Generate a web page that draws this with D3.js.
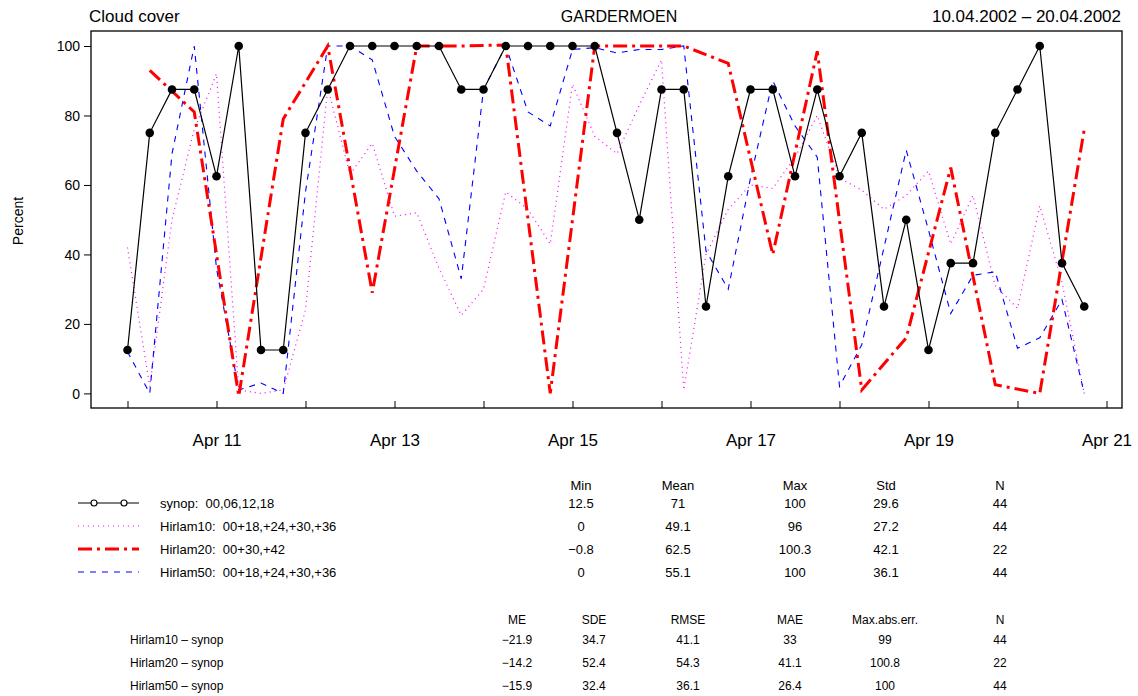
<!DOCTYPE html>
<html>
<head>
<meta charset="utf-8">
<script src="https://cdn.jsdelivr.net/npm/d3@7"></script>
<style>
  body { margin: 0; background: #fff; }
  svg { font-family: "Liberation Sans", Arial, sans-serif; }
  text { white-space: pre; }
</style>
</head>
<body>
<svg id="chart" width="1138" height="696"></svg>
<script>
// cloud cover (percent), Gardermoen 10.04.2002 - 20.04.2002
const synop = [12.5, 75, 87.5, 87.5, 62.5, 100, 12.5, 12.5, 75, 87.5,
  100, 100, 100, 100, 100, 87.5, 87.5, 100, 100, 100,
  100, 100, 75, 50, 87.5, 87.5, 25, 62.5, 87.5, 87.5,
  62.5, 87.5, 62.5, 75, 25, 50, 12.5, 37.5, 37.5, 75,
  87.5, 100, 37.5, 25];
const hirlam10 = [42, 2, 50, 76, 92, 1, 0, 1, 24, 88,
  63, 72, 51, 52, 36, 22.5, 30, 58, 53, 43,
  89, 74, 69, 83, 96, 1, 40, 53, 60, 59,
  68, 80, 62, 58.5, 53, 57, 64, 43, 57, 31,
  24.5, 54, 32, 0];
const hirlam20 = [93, 81, -0.8, 79, 100, 29, 100, 100, 100.3, 0,
  100, 100, 100, 95, 40, 98.5, 1, 16, 65, 2.5,
  0, 76];
const hirlam50 = [12, 0, 69, 100, 36, 1, 3, 0, 58, 100,
  100, 96, 74, 64, 56, 33, 87.5, 100, 81, 77,
  99, 99.5, 98, 99, 99, 100, 41, 30, 62, 90,
  77, 68, 2, 14, 42, 70, 47, 23, 34, 35,
  13, 16, 27, 0];

const yTicks = [0, 20, 40, 60, 80, 100];
const xTickLabels = ['Apr 11', 'Apr 13', 'Apr 15', 'Apr 17', 'Apr 19', 'Apr 21'];

const legendNames = ['synop:  00,06,12,18', 'Hirlam10:  00+18,+24,+30,+36',
  'Hirlam20:  00+30,+42', 'Hirlam50:  00+18,+24,+30,+36'];
const statCols = ['Min', 'Mean', 'Max', 'Std', 'N'];
const statRows = [
  ['12.5', '71', '100', '29.6', '44'],
  ['0', '49.1', '96', '27.2', '44'],
  ['\u22120.8', '62.5', '100.3', '42.1', '22'],
  ['0', '55.1', '100', '36.1', '44']
];
const errNames = ['Hirlam10 \u2013 synop', 'Hirlam20 \u2013 synop', 'Hirlam50 \u2013 synop'];
const errCols = ['ME', 'SDE', 'RMSE', 'MAE', 'Max.abs.err.', 'N'];
const errRows = [
  ['\u221221.9', '34.7', '41.1', '33', '99', '44'],
  ['\u221214.2', '52.4', '54.3', '41.1', '100.8', '22'],
  ['\u221215.9', '32.4', '36.1', '26.4', '100', '44']
];

const start = Date.UTC(2002, 3, 10);
const hour = 3600 * 1000;
const t6 = (d, i) => new Date(start + i * 6 * hour);
const t12 = (d, i) => new Date(start + 6 * hour + i * 12 * hour);

const svg = d3.select('#chart');
const box = { left: 91, right: 1122, top: 31, bottom: 408 };

const x = d3.scaleUtc()
  .domain([new Date(start), new Date(Date.UTC(2002, 3, 21))])
  .range([127.5, 1106.5]);
const y = d3.scaleLinear().domain([0, 100]).range([393.4, 46]);

// header texts
svg.append('text').attr('x', 89).attr('y', 22).attr('font-size', 17).text('Cloud cover');
svg.append('text').attr('x', 619).attr('y', 22).attr('font-size', 16)
  .attr('text-anchor', 'middle').text('GARDERMOEN');
svg.append('text').attr('x', 1121).attr('y', 22).attr('font-size', 17)
  .attr('text-anchor', 'end').text('10.04.2002 \u2013 20.04.2002');

// frame
svg.append('rect')
  .attr('x', box.left).attr('y', box.top)
  .attr('width', box.right - box.left).attr('height', box.bottom - box.top)
  .attr('fill', 'none').attr('stroke', '#000').attr('stroke-width', 1.3);

// axes
const days = d3.utcDay.range(new Date(start), new Date(Date.UTC(2002, 3, 21, 1)));
const xAxis = svg.append('g')
  .attr('transform', `translate(0,${box.bottom - 7})`)
  .call(d3.axisBottom(x)
    .tickValues(days)
    .tickSize(7)
    .tickPadding(26)
    .tickFormat((d, i) => i % 2 === 1 ? xTickLabels[(i - 1) / 2] : ''));
xAxis.select('.domain').remove();
xAxis.selectAll('text').attr('font-size', 17).attr('fill', '#000');

const yAxis = svg.append('g')
  .attr('transform', `translate(${box.left},0)`)
  .call(d3.axisLeft(y).tickValues(yTicks).tickSize(7).tickPadding(4));
yAxis.select('.domain').remove();
yAxis.selectAll('text').attr('font-size', 14).attr('fill', '#000').attr('dy', '0.35em');

svg.append('text')
  .attr('transform', 'translate(23,221) rotate(-90)')
  .attr('text-anchor', 'middle').attr('font-size', 14).text('Percent');

// series
const styles = [
  { data: synop, time: t6, color: '#000', width: 1.2, dash: null },
  { data: hirlam10, time: t6, color: '#ff00ff', width: 1.2, dash: '1,4' },
  { data: hirlam20, time: t12, color: '#ff0000', width: 3, dash: '14,5,3,5' },
  { data: hirlam50, time: t6, color: '#0000ff', width: 1.1, dash: '6,6' }
];

const line = d3.line().x(d => x(d.t)).y(d => y(d.v));

const plot = svg.append('g');
[1, 3, 2, 0].forEach(k => {
  const s = styles[k];
  const pts = s.data.map((v, i) => ({ t: s.time(v, i), v: v }));
  plot.append('path')
    .datum(pts)
    .attr('d', line)
    .attr('fill', 'none')
    .attr('stroke', s.color)
    .attr('stroke-width', s.width)
    .attr('stroke-dasharray', s.dash);
});

plot.selectAll('circle.obs')
  .data(synop.map((v, i) => ({ t: t6(v, i), v: v })))
  .enter()
  .append('circle')
  .attr('class', 'obs')
  .attr('cx', d => x(d.t))
  .attr('cy', d => y(d.v))
  .attr('r', 4.3)
  .attr('fill', '#000');

// legend + statistics
const rowY = [508, 531, 554, 577];
const colX = [581, 678, 795, 886, 1000];

svg.selectAll('text.scol')
  .data(statCols)
  .enter()
  .append('text')
  .attr('class', 'scol')
  .attr('x', (d, i) => colX[i]).attr('y', 490)
  .attr('text-anchor', 'middle').attr('font-size', 13)
  .text(d => d);

const legend = svg.selectAll('g.leg')
  .data(styles)
  .enter()
  .append('g')
  .attr('class', 'leg')
  .attr('transform', (d, i) => `translate(0,${rowY[i] - 5})`);

legend.append('line')
  .attr('x1', 78).attr('x2', 139)
  .attr('stroke', d => d.color)
  .attr('stroke-width', d => d.width)
  .attr('stroke-dasharray', d => d.dash);

legend.filter((d, i) => i === 0)
  .selectAll('circle')
  .data([94, 124])
  .enter()
  .append('circle')
  .attr('cx', d => d).attr('cy', 0).attr('r', 3)
  .attr('fill', '#fff').attr('stroke', '#000').attr('stroke-width', 1.1);

legend.append('text')
  .attr('x', 160).attr('y', 5).attr('font-size', 13)
  .text((d, i) => legendNames[i]);

legend.each(function(d, i) {
  d3.select(this)
    .selectAll('text.val')
    .data(statRows[i])
    .enter()
    .append('text')
    .attr('class', 'val')
    .attr('x', (v, j) => colX[j]).attr('y', 5)
    .attr('text-anchor', 'middle').attr('font-size', 13)
    .text(v => v);
});

// error table
const errColX = [517, 594, 688, 790, 885, 1000];
const errRowY = [644, 667, 690];
const err = svg.append('g');

err.selectAll('text.ecol')
  .data(errCols)
  .enter()
  .append('text')
  .attr('class', 'ecol')
  .attr('x', (d, i) => errColX[i]).attr('y', 624)
  .attr('text-anchor', 'middle').attr('font-size', 12)
  .text(d => d);

errRows.forEach((row, i) => {
  err.append('text')
    .attr('x', 130).attr('y', errRowY[i]).attr('font-size', 12)
    .text(errNames[i]);
  err.selectAll('text.r' + i)
    .data(row)
    .enter()
    .append('text')
    .attr('class', 'r' + i)
    .attr('x', (v, j) => errColX[j]).attr('y', errRowY[i])
    .attr('text-anchor', 'middle').attr('font-size', 12)
    .text(v => v);
});
</script>
</body>
</html>
